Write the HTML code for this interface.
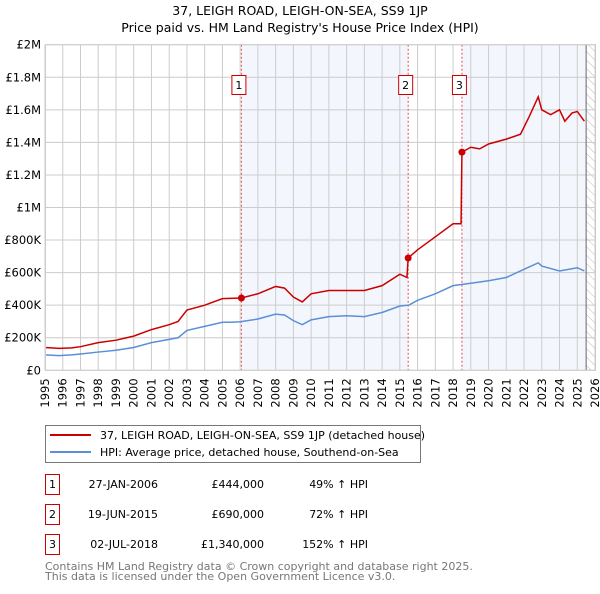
<!DOCTYPE html>
<html><head><meta charset="utf-8"><style>
body{margin:0;background:#fff;font-family:"DejaVu Sans","Liberation Sans",sans-serif;}
svg text{font-family:"DejaVu Sans","Liberation Sans",sans-serif;}
</style></head><body>
<svg id="chart" width="600" height="590" xmlns="http://www.w3.org/2000/svg">
<defs><pattern id="hatch" width="6" height="6" patternUnits="userSpaceOnUse" patternTransform="rotate(-45)"><line x1="0" y1="0" x2="0" y2="6" stroke="#bbb" stroke-width="1"/></pattern></defs>
<text x="300" y="15" text-anchor="middle" font-size="12.5" fill="#000">37, LEIGH ROAD, LEIGH-ON-SEA, SS9 1JP</text>
<text x="300" y="32" text-anchor="middle" font-size="12.5" fill="#000">Price paid vs. HM Land Registry's House Price Index (HPI)</text>
<g id="plot"></g>
<g>
<rect x="45.5" y="425.5" width="375" height="37" fill="#fff" stroke="#777"/>
<line x1="50" y1="435" x2="91" y2="435" stroke="#cc0000" stroke-width="2"/>
<text x="100" y="439" font-size="11">37, LEIGH ROAD, LEIGH-ON-SEA, SS9 1JP (detached house)</text>
<line x1="50" y1="452" x2="91" y2="452" stroke="#5b8fd6" stroke-width="2"/>
<text x="100" y="456" font-size="11">HPI: Average price, detached house, Southend-on-Sea</text>
</g>
<g id="table" font-size="11"></g>
<text x="45" y="570" font-size="11" fill="#777">Contains HM Land Registry data © Crown copyright and database right 2025.</text>
<text x="45" y="580" font-size="11" fill="#777">This data is licensed under the Open Government Licence v3.0.</text>
</svg>
<script>
const hpiYears=[1995,1995.8,1996.5,1997,1998,1999,2000,2001,2002,2002.5,2003,2004,2005,2005.5,2006,2007,2008,2008.5,2009,2009.5,2010,2011,2012,2013,2014,2015,2015.5,2016,2017,2018,2019,2020,2021,2022,2022.8,2023,2024,2024.5,2025,2025.4];
const hpiValues=[95000,90000,95000,100000,112000,123000,140000,170000,190000,200000,245000,270000,295000,295000,298000,315000,345000,340000,305000,280000,310000,330000,335000,330000,355000,395000,400000,430000,470000,520000,535000,550000,570000,620000,660000,640000,610000,620000,630000,610000];
const priceYears=[1995,1995.8,1996.5,1997,1998,1999,2000,2001,2002,2002.5,2003,2004,2005,2006.07,2007,2008,2008.5,2009,2009.5,2010,2011,2012,2013,2014,2015,2015.4,2015.47,2016,2017,2018,2018.45,2018.5,2019,2019.5,2020,2021,2021.8,2022.3,2022.8,2023,2023.5,2024,2024.3,2024.7,2025,2025.4];
const priceValues=[140000,135000,138000,145000,170000,185000,210000,250000,280000,300000,370000,400000,440000,444000,470000,515000,505000,450000,420000,470000,490000,490000,490000,520000,590000,570000,690000,740000,820000,900000,900000,1340000,1370000,1360000,1390000,1420000,1450000,1560000,1680000,1600000,1570000,1600000,1530000,1580000,1590000,1530000];
const saleLabels=["1","2","3"];
const saleYears=[2006.07,2015.47,2018.5];
const saleValues=[444000,690000,1340000];
const saleDates=["27-JAN-2006","19-JUN-2015","02-JUL-2018"];
const salePrices=["£444,000","£690,000","£1,340,000"];
const saleHpi=["49% ↑ HPI","72% ↑ HPI","152% ↑ HPI"];
const yTicks=[0,200000,400000,600000,800000,1000000,1200000,1400000,1600000,1800000,2000000];
const yTickLabels=["£0","£200K","£400K","£600K","£800K","£1M","£1.2M","£1.4M","£1.6M","£1.8M","£2M"];
const xTicks=[1995,1996,1997,1998,1999,2000,2001,2002,2003,2004,2005,2006,2007,2008,2009,2010,2011,2012,2013,2014,2015,2016,2017,2018,2019,2020,2021,2022,2023,2024,2025,2026];
const X0=45,X1=595,Y0=370.3,Y1=44.7;
const sx=y=>X0+(y-1995)/(2026-1995)*(X1-X0);
const sy=v=>Y0-v/2000000*(Y0-Y1);
const NS="http://www.w3.org/2000/svg";
const plot=document.getElementById('plot');
function mk(tag,attrs,parent){const e=document.createElementNS(NS,tag);for(const k in attrs)e.setAttribute(k,attrs[k]);(parent||plot).appendChild(e);return e;}
let e;
e=mk('rect',{x:sx(saleYears[0]),y:Y1,width:sx(saleYears[1])-sx(saleYears[0]),height:Y0-Y1,fill:'#eef3fc',opacity:0.7});


e=mk('rect',{x:sx(saleYears[2]),y:Y1,width:sx(2025.5)-sx(saleYears[2]),height:Y0-Y1,fill:'#eef3fc',opacity:0.7});


e=mk('rect',{x:sx(2025.5),y:Y1,width:X1-sx(2025.5),height:Y0-Y1,fill:'url(#hatch)'});


yTicks.forEach((v,i)=>{
 e=mk('line',{x1:X0,x2:X1,y1:sy(v),y2:sy(v),stroke:'#ccc','stroke-width':1});
 
 
 e=mk('text',{x:X0-4,y:sy(v)+4,'text-anchor':'end','font-size':11.5});
 e.textContent=yTickLabels[i];
 
 
});
xTicks.forEach(y=>{
 e=mk('line',{x1:sx(y),x2:sx(y),y1:Y1,y2:Y0,stroke:'#ccc','stroke-width':1});
 
 
 e=mk('text',{x:0,y:0,'text-anchor':'end','font-size':11.5,transform:`translate(${sx(y)+4},${Y0+8}) rotate(-90)`});
 e.textContent=y;
 
 
});
e=mk('line',{x1:sx(2025.5),x2:sx(2025.5),y1:Y1,y2:Y0,stroke:'#666','stroke-width':1});


saleYears.forEach((y,i)=>{
 e=mk('line',{x1:sx(y),x2:sx(y),y1:Y1,y2:Y0,stroke:'#e05050','stroke-width':1,'stroke-dasharray':'2,2'});
 
 
 const bx=sx(y)-10;
 e=mk('rect',{x:bx+0.5,y:75.5,width:14,height:19,fill:'#fff',stroke:'#cc0000'});
 
 
 e=mk('text',{x:bx+7.5,y:89,'text-anchor':'middle','font-size':11});
 e.textContent=saleLabels[i];
 
 
});
e=mk('polyline',{points:hpiYears.map((y,i)=>sx(y)+','+sy(hpiValues[i])).join(' '),fill:'none',stroke:'#5b8fd6','stroke-width':1.5});


e=mk('polyline',{points:priceYears.map((y,i)=>sx(y)+','+sy(priceValues[i])).join(' '),fill:'none',stroke:'#cc0000','stroke-width':1.5});


saleYears.forEach((y,i)=>{
 e=mk('circle',{cx:sx(y),cy:sy(saleValues[i]),r:3.5,fill:'#cc0000'});
 
 
});
e=mk('rect',{x:X0+0.5,y:Y1,width:X1-X0,height:Y0-Y1,fill:'none',stroke:'#ccc'});


const tbl=document.getElementById('table');
saleLabels.forEach((l,i)=>{
 const cy=483+i*30;
 e=mk('rect',{x:45.5,y:cy-8.5,width:14,height:20,fill:'#fff',stroke:'#cc0000'},tbl);
 
 
 e=mk('text',{x:52.5,y:cy+5,'text-anchor':'middle'},tbl);e.textContent=l;
 
 
 e=mk('text',{x:158,y:cy+5,'text-anchor':'end'},tbl);e.textContent=saleDates[i];
 
 
 e=mk('text',{x:264,y:cy+5,'text-anchor':'end'},tbl);e.textContent=salePrices[i];
 
 
 e=mk('text',{x:368,y:cy+5,'text-anchor':'end'},tbl);e.textContent=saleHpi[i];
 
 
});
</script>
</body></html>
